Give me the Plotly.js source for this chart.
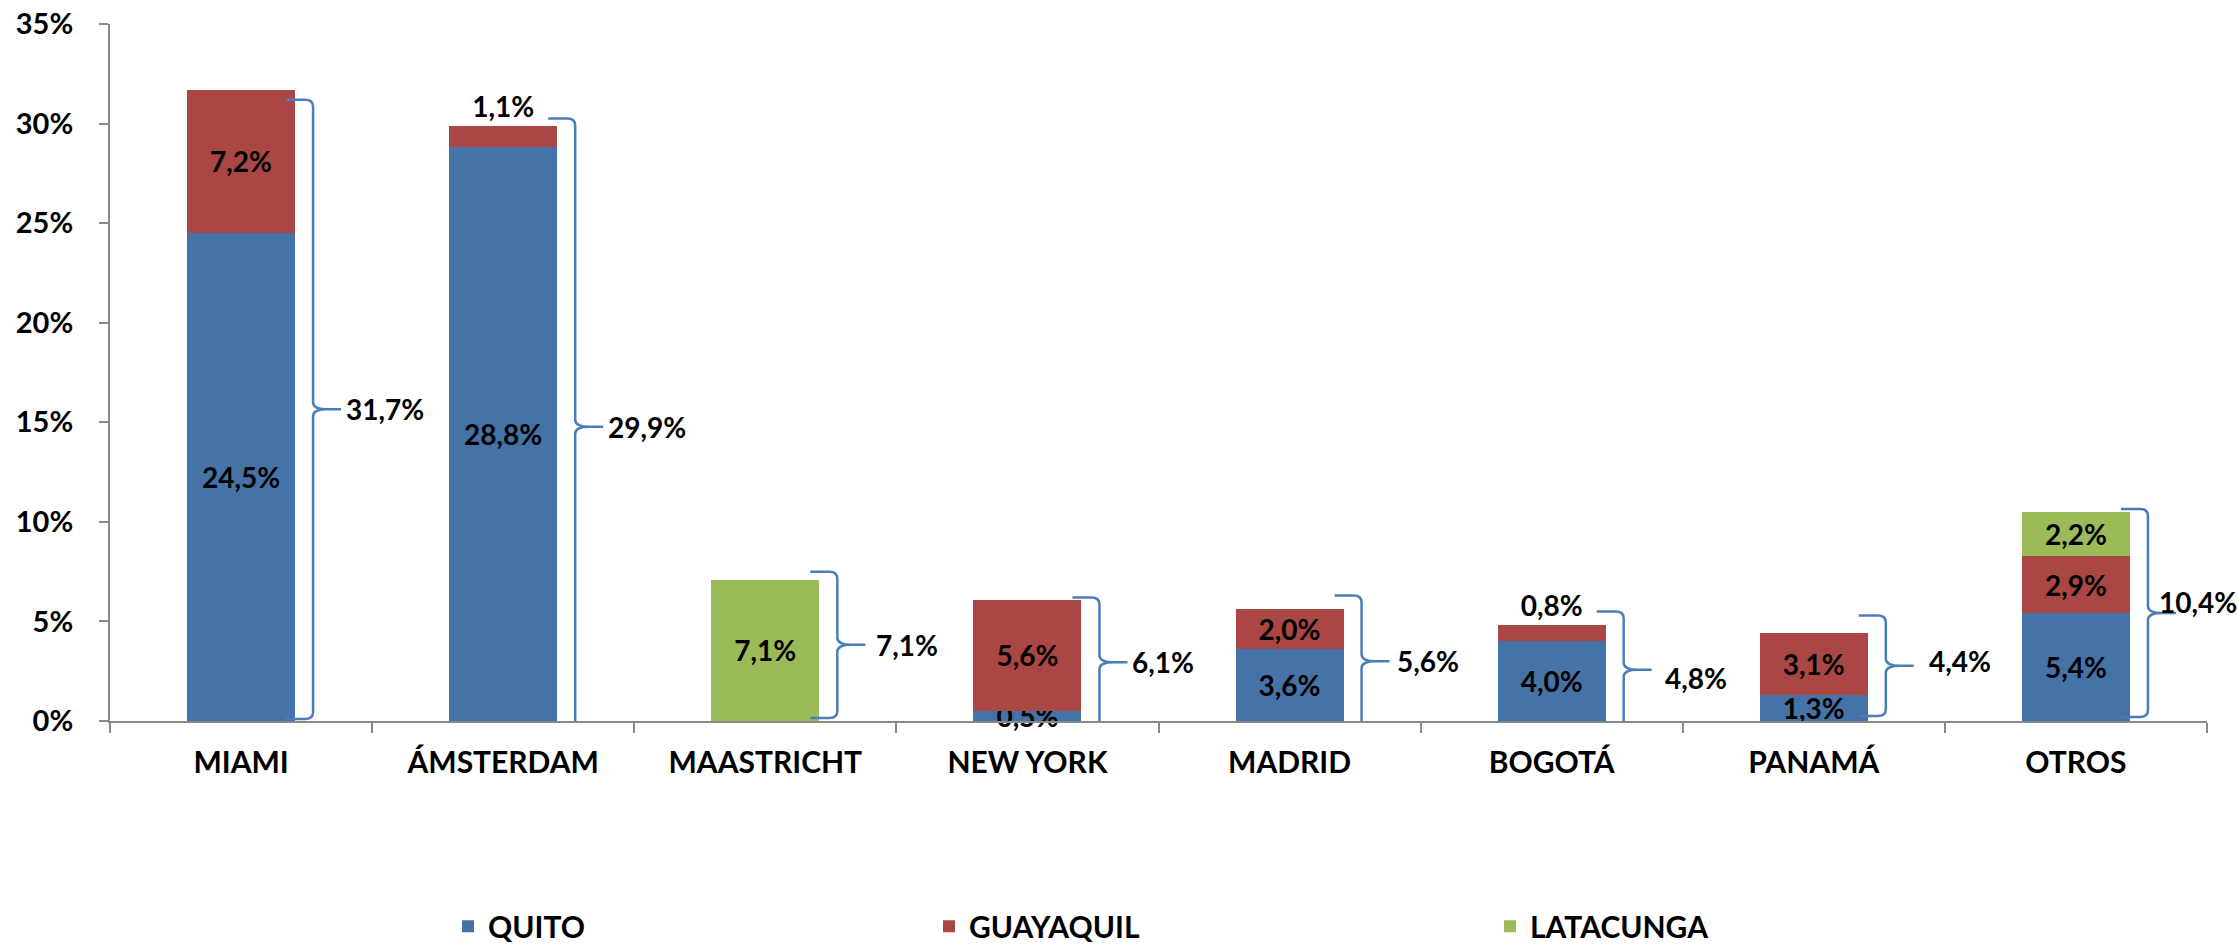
<!DOCTYPE html>
<html><head><meta charset="utf-8">
<script src="https://cdn.plot.ly/plotly-3.0.1.min.js"></script>
<style>html,body{margin:0;padding:0;background:#fff}</style>
</head><body><div id="chart" style="width:2238px;height:946px"></div>
<script>
// ---------- data ----------
const categories = ['MIAMI', 'ÁMSTERDAM', 'MAASTRICHT', 'NEW YORK', 'MADRID', 'BOGOTÁ', 'PANAMÁ', 'OTROS'];
const seriesNames = ['QUITO', 'GUAYAQUIL', 'LATACUNGA'];
const quito     = [24.5, 28.8, null, 0.5, 3.6, 4.0, 1.3, 5.4];
const guayaquil = [7.2,  1.1,  null, 5.6, 2.0, 0.8, 3.1, 2.9];
const latacunga = [null, null, 7.1,  null, null, null, null, 2.2];
const totals    = [31.7, 29.9, 7.1, 6.1, 5.6, 4.8, 4.4, 10.4];
const yTicks    = [0, 5, 10, 15, 20, 25, 30, 35];

// ---------- layout / style ----------
const W = 2238, H = 946;
const M = {l: 110, r: 31, t: 24, b: 225};
const plotW = W - M.l - M.r, plotH = H - M.t - M.b;
const yMax = 35;
const pxX = plotW / categories.length;   // px per category unit
const pxY = plotH / yMax;                // px per percent unit
const FONT = 'Lato, "Open Sans", sans-serif';
const colors = ['#4572A7', '#AA4643', '#9BBB59'];
const braceColor = '#4A7EBB';
// brace extents [top, bottom] in axis units, and label shifts [dx, dy] in px
const braceSpans = [[31.2, 0.1], [30.25, -0.7], [7.5, 0.15], [6.2, -0.3], [6.3, -0.3], [5.5, -0.35], [5.3, 0.25], [10.65, 0.2]];
const labelShift = [[0, 0], [0, 0], [6, 0], [0, 0], [2, 0], [8, -8], [10, 5], [-22, 11]];

const fmt = v => v.toFixed(1).replace('.', ',') + '%';

function barTrace(name, y, color, legendId, textpos) {
  return {
    type: 'bar', name: name, x: categories, y: y,
    marker: {color: color, line: {width: 0}},
    texttemplate: '%{y:.1f}%', textposition: textpos, textangle: 0,
    insidetextanchor: 'middle', constraintext: 'none', cliponaxis: false,
    insidetextfont: {family: FONT, size: 28, color: '#000', weight: 700},
    outsidetextfont: {family: FONT, size: 28, color: '#000', weight: 700},
    legend: legendId, hoverinfo: 'skip'
  };
}

const gPos = categories.map((c, i) => (i === 1 || i === 5) ? 'outside' : 'inside');
const traces = [
  barTrace(seriesNames[0], quito, colors[0], 'legend', 'inside'),
  barTrace(seriesNames[1], guayaquil, colors[1], 'legend2', gPos),
  barTrace(seriesNames[2], latacunga, colors[2], 'legend3', 'inside')
];

// braces
const shapes = [], annotations = [];
categories.forEach((c, i) => {
  const top = braceSpans[i][0], bot = braceSpans[i][1];
  const mid = (top + bot) / 2;
  const hook = i + 45 / pxX, xv = i + 72 / pxX, xt = i + 100 / pxX;
  const cx = 14 / pxX, ry = 7 / pxY, fl = 8 / pxX;
  const P = (x, y) => x.toFixed(4) + ',' + y.toFixed(4);
  const path = 'M' + P(hook, top) + ' L' + P(xv - fl, top) + ' Q' + P(xv, top) + ' ' + P(xv, top - ry) +
    ' L' + P(xv, mid + ry) + ' Q' + P(xv, mid) + ' ' + P(xv + cx, mid) + ' L' + P(xt, mid) +
    ' M' + P(xv + cx, mid) + ' Q' + P(xv, mid) + ' ' + P(xv, mid - ry) +
    ' L' + P(xv, bot + ry) + ' Q' + P(xv, bot) + ' ' + P(xv - fl, bot) + ' L' + P(hook, bot);
  shapes.push({type: 'path', xref: 'x', yref: 'y', path: path,
    line: {color: braceColor, width: 2.5}, fillcolor: 'rgba(0,0,0,0)', layer: 'above'});
  annotations.push({xref: 'x', yref: 'y', x: xt + (3 + labelShift[i][0]) / pxX, y: mid,
    yshift: labelShift[i][1], xanchor: 'left', yanchor: 'middle', showarrow: false,
    text: fmt(totals[i]), font: {family: FONT, size: 28, color: '#000', weight: 700}});
});

const legendBase = {orientation: 'h', xref: 'container', yref: 'container', yanchor: 'middle',
  y: 0.021, xanchor: 'left', bgcolor: 'rgba(0,0,0,0)',
  font: {family: FONT, size: 30, color: '#000', weight: 700}};

const layout = {
  width: W, height: H, margin: Object.assign({autoexpand: false, pad: 0}, M),
  paper_bgcolor: '#fff', plot_bgcolor: '#fff',
  barmode: 'stack', bargap: 0.588, separators: ', ',
  showlegend: true,
  font: {family: FONT, color: '#000'},
  xaxis: {type: 'category', tickson: 'boundaries', ticks: 'outside', ticklen: 10, tickwidth: 2,
    tickcolor: '#898989', showline: true, linecolor: '#898989', linewidth: 2, showgrid: false,
    tickfont: {family: FONT, size: 30, color: '#000', weight: 700}, ticklabelstandoff: 14,
    range: [-0.5, 7.5], fixedrange: true},
  yaxis: {range: [0, yMax], tickvals: yTicks, ticktext: yTicks.map(v => v + '%'),
    ticks: 'outside', ticklen: 9, tickwidth: 2, tickcolor: '#898989', showline: true,
    linecolor: '#898989', linewidth: 2, showgrid: false, zeroline: false,
    tickfont: {family: FONT, size: 29, color: '#000', weight: 700}, ticklabelstandoff: 20, fixedrange: true},
  legend: Object.assign({}, legendBase, {x: 448 / W}),
  legend2: Object.assign({}, legendBase, {x: 929 / W}),
  legend3: Object.assign({}, legendBase, {x: 1490 / W}),
  shapes: shapes, annotations: annotations
};

Plotly.newPlot('chart', traces, layout, {displayModeBar: false, staticPlot: true});
</script></body></html>
